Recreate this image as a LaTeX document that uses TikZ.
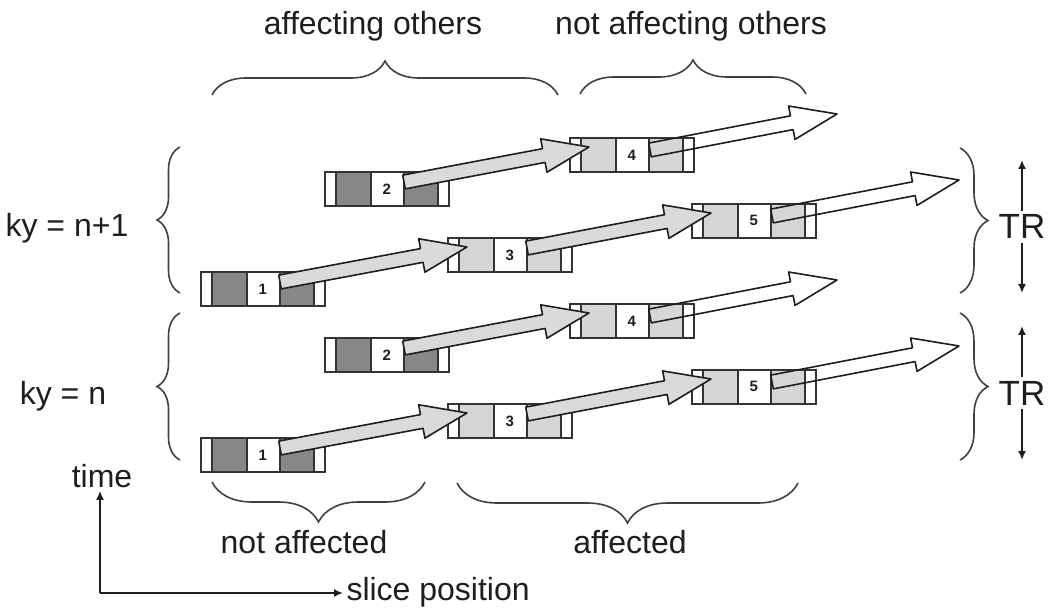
\documentclass[tikz,border=0pt]{standalone}
\usepackage{fontspec}
\setmainfont{Liberation Sans}
\usetikzlibrary{arrows.meta,calc,decorations.pathreplacing}
\definecolor{SInk}{HTML}{1E1E1E}
\definecolor{SEdge}{HTML}{333333}
\definecolor{SDark}{HTML}{878787}
\definecolor{SLight}{HTML}{D6D6D6}
\definecolor{SArrow}{HTML}{DADADA}

\newcommand\slicearrow[3]{%
  \draw[#1] let \p1=(#2), \p2=(#3),
      \n1={atan2(\y2-\y1,\x2-\x1)}, \n2={veclen(\x2-\x1,\y2-\y1)} in
    ($(\p1)+(\n1+90:7pt)$) -- ($(\p1)+(\n1:\n2-46pt)+(\n1+90:7pt)$)
    -- ($(\p1)+(\n1:\n2-46pt)+(\n1+90:17pt)$) -- (\p2)
    -- ($(\p1)+(\n1:\n2-46pt)+(\n1-90:17pt)$)
    -- ($(\p1)+(\n1:\n2-46pt)+(\n1-90:7pt)$)
    -- ($(\p1)+(\n1-90:7pt)$) -- cycle;}

\begin{document}
\begin{tikzpicture}[
  x=1pt,y=-1pt,
  every node/.style={font=\fontsize{32}{36}\selectfont,text=SInk},
  slab/.style={draw=SEdge,line width=1.8pt,anchor=north west,
    minimum width=124pt,minimum height=34pt,inner sep=0pt,
    font=\fontsize{15}{15}\selectfont\bfseries,
    path picture={
      \fill[#1] ([xshift=11pt]path picture bounding box.north west)
        rectangle ([xshift=46pt]path picture bounding box.south west);
      \fill[#1] ([xshift=79pt]path picture bounding box.north west)
        rectangle ([xshift=113pt]path picture bounding box.south west);
      \foreach \s in {11,46,79,113}
        \draw[SEdge,line width=1.3pt] ([xshift=\s pt]path picture bounding box.north west)
          -- ([xshift=\s pt]path picture bounding box.south west);}},
  slab/.default=SLight,
  grayarr/.style={draw=SInk,line width=1.6pt,fill=SArrow,line join=round},
  openarr/.style={draw=SInk,line width=1.6pt,line join=round},
  brc/.style={decorate,decoration={brace,amplitude=#1},draw=black!75,line width=1.6pt},
  axarr/.style={-{Latex[length=9pt,width=8pt]},draw=SInk,line width=1.6pt}
]
  \useasboundingbox (0,0) rectangle (1050,612);

  \node[slab=SDark] (u1) at (200,271) {1};
  \node[slab=SDark] (u2) at (324,171) {2};
  \node[slab] (u3) at (447,237) {3};
  \node[slab] (u4) at (569,137) {4};
  \node[slab] (u5) at (691,203) {5};
  \node[slab=SDark] (l1) at (200,437) {1};
  \node[slab=SDark] (l2) at (324,337) {2};
  \node[slab] (l3) at (447,403) {3};
  \node[slab] (l4) at (569,303) {4};
  \node[slab] (l5) at (691,369) {5};

  \coordinate (u4end) at ($(u4.north west)+(268,-23)$);
  \coordinate (u5end) at ($(u5.north west)+(268,-23)$);
  \coordinate (l4end) at ($(l4.north west)+(268,-23)$);
  \coordinate (l5end) at ($(l5.north west)+(268,-23)$);

  \slicearrow{grayarr}{$(u1.north west)+(80,11)$}{$(u3.north west)+(20,10)$}
  \slicearrow{grayarr}{$(u2.north west)+(80,11)$}{$(u4.north west)+(20,10)$}
  \slicearrow{grayarr}{$(u3.north west)+(80,11)$}{$(u5.north west)+(20,10)$}
  \slicearrow{grayarr}{$(l1.north west)+(80,11)$}{$(l3.north west)+(20,10)$}
  \slicearrow{grayarr}{$(l2.north west)+(80,11)$}{$(l4.north west)+(20,10)$}
  \slicearrow{grayarr}{$(l3.north west)+(80,11)$}{$(l5.north west)+(20,10)$}
  \slicearrow{openarr}{$(u4.north west)+(81,13)$}{u4end}
  \slicearrow{openarr}{$(u5.north west)+(81,13)$}{u5end}
  \slicearrow{openarr}{$(l4.north west)+(81,13)$}{l4end}
  \slicearrow{openarr}{$(l5.north west)+(81,13)$}{l5end}

  \draw[brc=34pt] (212,95) -- (558,95);
  \draw[brc=34pt] (580,94) -- (806,94);
  \node[anchor=base] (affo) at (373,35) {affecting others};
  \node[anchor=base] (naffo) at (691,35) {not affecting others};

  \draw[brc=23pt] (180,293) -- (180,147);
  \draw[brc=23pt] (180,460) -- (180,313);
  \node[anchor=base] (kyu) at (67,237) {ky = n+1};
  \node[anchor=base] (kyl) at (63,404) {ky = n};

  \draw[brc=28pt] (960,148) -- (960,293);
  \draw[brc=28pt] (960,313) -- (960,460);
  \node[anchor=base,font=\fontsize{35}{38}\selectfont] (tru) at (1022,239) {TR};
  \node[anchor=base,font=\fontsize{35}{38}\selectfont] (trl) at (1022,405) {TR};
  \coordinate (trutop) at (1022,160);
  \coordinate (trubot) at (1022,293);
  \coordinate (trltop) at (1022,326);
  \coordinate (trlbot) at (1022,460);
  \draw[axarr] (tru.north) -- (trutop);
  \draw[axarr] (tru.south) -- (trubot);
  \draw[axarr] (trl.north) -- (trltop);
  \draw[axarr] (trl.south) -- (trlbot);

  \draw[brc=40pt] (425,482) -- (212,482);
  \draw[brc=40pt] (798,483) -- (457,483);
  \node[anchor=base] (naff) at (304,553) {not affected};
  \node[anchor=base] (aff) at (630,553) {affected};

  \coordinate (origin) at (100,593);
  \node[anchor=base] (timelbl) at (102,487) {time};
  \node[anchor=base west] (slicepos) at (343,600) {slice position};
  \draw[axarr] (origin) -- (origin |- timelbl.south);
  \draw[axarr] (origin) -- (origin -| slicepos.west);
\end{tikzpicture}
\end{document}
